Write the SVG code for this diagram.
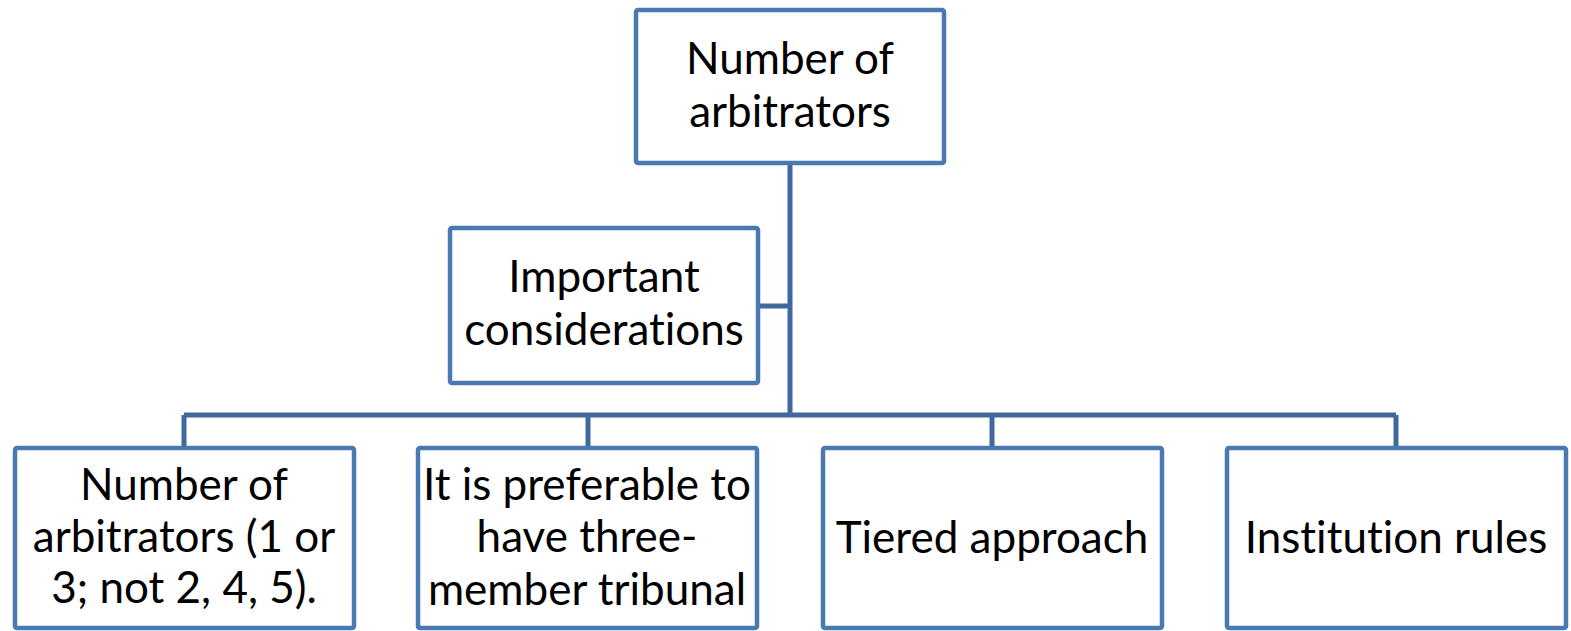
<svg xmlns="http://www.w3.org/2000/svg" width="1571" height="631" viewBox="0 0 1571 631">
<style>
.box{fill:#fff;stroke:#4a78b0;stroke-width:4.5}
.con{fill:none;stroke:#40689c;stroke-width:5}
text{font-family:Lato,"Open Sans","Liberation Sans",sans-serif;font-size:44px;fill:#000;text-anchor:middle;font-variant-ligatures:none;font-feature-settings:"liga" 0,"clig" 0,"dlig" 0}
</style>
<rect width="1571" height="631" fill="#fff"/>
<g id="connectors">
<path class="con" d="M790 163V415M758 306H790M184 415H1396M184 415V448M588 415V448M992 415V448M1396 415V448"/>
</g>
<g id="n-top"><rect class="box" x="636" y="10" width="308" height="153" rx="2"/><text x="790" y="74">Number of</text><text x="790" y="127">arbitrators</text></g>
<g id="n-important"><rect class="box" x="450" y="228" width="308" height="155" rx="2"/><text x="604" y="292">Important</text><text x="604" y="345">considerations</text></g>
<g id="n-number"><rect class="box" x="15" y="448" width="339" height="180" rx="2"/><text x="184" y="500">Number of</text><text x="184" y="552">arbitrators (1 or</text><text x="184" y="603">3; not 2, 4, 5).</text></g>
<g id="n-preferable"><rect class="box" x="418" y="448" width="339" height="180" rx="2"/><text x="587" y="500">It is preferable to</text><text x="587" y="552">have three-</text><text x="587" y="605">member tribunal</text></g>
<g id="n-tiered"><rect class="box" x="823" y="448" width="339" height="180" rx="2"/><text x="992" y="553">Tiered approach</text></g>
<g id="n-institution"><rect class="box" x="1227" y="448" width="339" height="180" rx="2"/><text x="1396" y="553">Institution rules</text></g>
</svg>
